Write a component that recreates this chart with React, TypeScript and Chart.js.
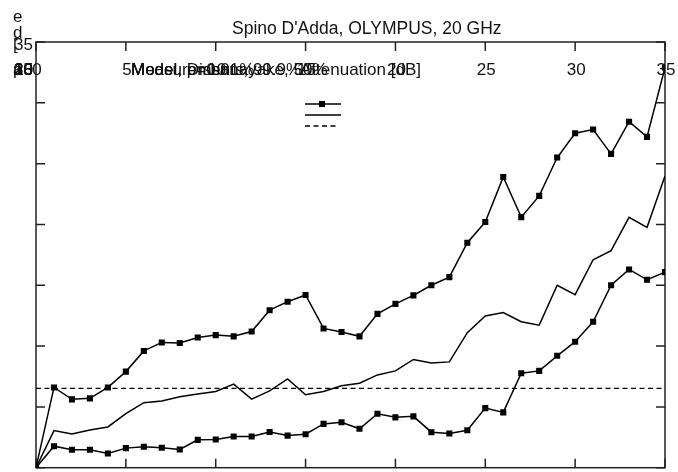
import React, { useEffect, useRef } from "react";
import { Chart, registerables } from "chart.js";
Chart.register(...registerables);

const xValues = [0, 1, 2, 3, 4, 5, 6, 7, 8, 9, 10, 11, 12, 13, 14, 15, 16, 17, 18, 19, 20, 21, 22, 23, 24, 25, 26, 27, 28, 29, 30, 31, 32, 33, 34, 35];
const measuredUpper = [0, 6.6, 5.62, 5.7, 6.6, 7.9, 9.6, 10.3, 10.25, 10.7, 10.9, 10.8, 11.2, 12.95, 13.65, 14.2, 11.45, 11.15, 10.8, 12.65, 13.47, 14.17, 15.0, 15.67, 18.5, 20.2, 23.9, 20.6, 22.35, 25.5, 27.5, 27.8, 25.8, 28.45, 27.2, 32.9];
const modelMiddle = [0, 3.05, 2.78, 3.1, 3.35, 4.45, 5.35, 5.48, 5.83, 6.05, 6.27, 6.87, 5.64, 6.32, 7.3, 6.0, 6.27, 6.73, 6.95, 7.63, 7.96, 8.9, 8.61, 8.7, 11.1, 12.48, 12.75, 12.0, 11.72, 15.0, 14.23, 17.1, 17.85, 20.58, 19.76, 23.98];
const measuredLower = [0, 1.77, 1.47, 1.47, 1.17, 1.61, 1.72, 1.64, 1.5, 2.29, 2.32, 2.56, 2.56, 2.94, 2.64, 2.75, 3.6, 3.73, 3.2, 4.44, 4.14, 4.22, 2.92, 2.81, 3.08, 4.9, 4.55, 7.77, 7.96, 9.2, 10.36, 12.0, 15.0, 16.3, 15.45, 16.08];
const thresholdValue = 6.52;
const thresholdRange = [0, 35];
const xTickValues = [0, 5, 10, 15, 20, 25, 30, 35];
const yTickValues = [0, 5, 10, 15, 20, 25, 30, 35];
const titleText = "Spino D'Adda, OLYMPUS, 20 GHz";
const xAxisLabel = "Attenuation [dB]";
const legendLabels = ["Measurements, 99.9%", "Model, p=0.01%", "Model, Dissanayake, 50%"];
const yLabelChars = ["e", "d", "[", "p", "a"];

const FONT = "'Liberation Sans', Arial, sans-serif";
const INK = "#111";

const overlayPlugin = {
  id: "gnuplotOverlay",
  beforeDatasetsDraw(chart: any) {
    const { ctx, chartArea, scales } = chart;
    const xs = scales.x;
    const ys = scales.y;
    ctx.save();
    ctx.strokeStyle = "#222";
    ctx.lineWidth = 1.5;
    ctx.strokeRect(chartArea.left, chartArea.top, chartArea.right - chartArea.left, chartArea.bottom - chartArea.top);
    const tl = 9;
    ctx.beginPath();
    xTickValues.forEach((v) => {
      const px = xs.getPixelForValue(v);
      ctx.moveTo(px, chartArea.bottom);
      ctx.lineTo(px, chartArea.bottom - tl);
      ctx.moveTo(px, chartArea.top);
      ctx.lineTo(px, chartArea.top + tl);
    });
    yTickValues.forEach((v) => {
      const py = ys.getPixelForValue(v);
      ctx.moveTo(chartArea.left, py);
      ctx.lineTo(chartArea.left + tl, py);
      ctx.moveTo(chartArea.right, py);
      ctx.lineTo(chartArea.right - tl, py);
    });
    ctx.stroke();
    ctx.restore();
  },
  afterDraw(chart: any) {
    const { ctx, scales } = chart;
    const xs = scales.x;
    const ys = scales.y;
    ctx.save();
    ctx.fillStyle = INK;
    ctx.textBaseline = "alphabetic";

    ctx.font = `17.5px ${FONT}`;
    ctx.textAlign = "left";
    ctx.fillText(titleText, 232, 33.5);

    ctx.font = `17px ${FONT}`;
    ctx.textAlign = "center";
    xTickValues.forEach((v) => {
      ctx.fillText(String(v), xs.getPixelForValue(v) + 1, 74.5);
    });
    ctx.textAlign = "right";
    yTickValues.forEach((v) => {
      if (v === 35) {
        ctx.fillText(String(v), 33, ys.getPixelForValue(v) + 7.5);
      } else {
        ctx.fillText(String(v), 33, 74.5);
      }
    });
    ctx.textAlign = "left";
    const yl = [22, 37.5, 50, 74.5, 74.5];
    yLabelChars.forEach((c, i) => ctx.fillText(c, 13, yl[i]));
    legendLabels.forEach((t) => ctx.fillText(t, 131, 74.5));
    ctx.fillText(xAxisLabel, 300, 74.5);

    const lx0 = 305;
    const lx1 = 341;
    ctx.strokeStyle = "#000";
    ctx.lineWidth = 1.5;
    ctx.beginPath();
    ctx.moveTo(lx0, 104);
    ctx.lineTo(lx1, 104);
    ctx.moveTo(lx0, 115);
    ctx.lineTo(lx1, 115);
    ctx.stroke();
    ctx.fillStyle = "#000";
    ctx.fillRect(322 - 3, 104 - 3, 6, 6);
    ctx.setLineDash([5, 3.5]);
    ctx.beginPath();
    ctx.moveTo(lx0, 126);
    ctx.lineTo(lx1 - 4, 126);
    ctx.stroke();
    ctx.restore();
  },
};

export default function App() {
  const ref = useRef<HTMLCanvasElement>(null);
  useEffect(() => {
    if (!ref.current) return;
    const toPts = (arr: number[]) => arr.map((y, i) => ({ x: xValues[i], y }));
    const chart = new Chart(ref.current, {
      type: "line",
      data: {
        datasets: [
          {
            label: legendLabels[0],
            data: toPts(measuredUpper),
            borderColor: "#000",
            backgroundColor: "#000",
            borderWidth: 1.5,
            pointStyle: "rect",
            pointRadius: 4.3,
            pointBorderWidth: 0,
            tension: 0,
          },
          {
            label: legendLabels[1],
            data: toPts(modelMiddle),
            borderColor: "#000",
            borderWidth: 1.5,
            pointRadius: 0,
            tension: 0,
          },
          {
            label: legendLabels[2],
            data: toPts(measuredLower),
            borderColor: "#000",
            backgroundColor: "#000",
            borderWidth: 1.5,
            pointStyle: "rect",
            pointRadius: 4.3,
            pointBorderWidth: 0,
            tension: 0,
          },
          {
            label: "threshold",
            data: thresholdRange.map((x) => ({ x, y: thresholdValue })),
            borderColor: "#000",
            borderWidth: 1.2,
            borderDash: [5, 3.5],
            pointRadius: 0,
            tension: 0,
          },
        ],
      },
      options: {
        responsive: false,
        animation: false,
        layout: { padding: { left: 36, top: 42, right: 13, bottom: 2 } },
        plugins: { legend: { display: false }, title: { display: false }, tooltip: { enabled: false } },
        scales: {
          x: {
            type: "linear",
            min: 0,
            max: 35,
            display: true,
            ticks: { display: false },
            grid: { display: false, drawTicks: false },
            border: { display: false },
          },
          y: {
            type: "linear",
            min: 0,
            max: 35,
            display: true,
            ticks: { display: false },
            grid: { display: false, drawTicks: false },
            border: { display: false },
          },
        },
      },
      plugins: [overlayPlugin],
    });
    return () => chart.destroy();
  }, []);
  return (
    <div style={{ position: "fixed", left: 0, top: 0, width: 678, height: 472, background: "#fff" }}>
      <canvas ref={ref} width={678} height={472} />
    </div>
  );
}
